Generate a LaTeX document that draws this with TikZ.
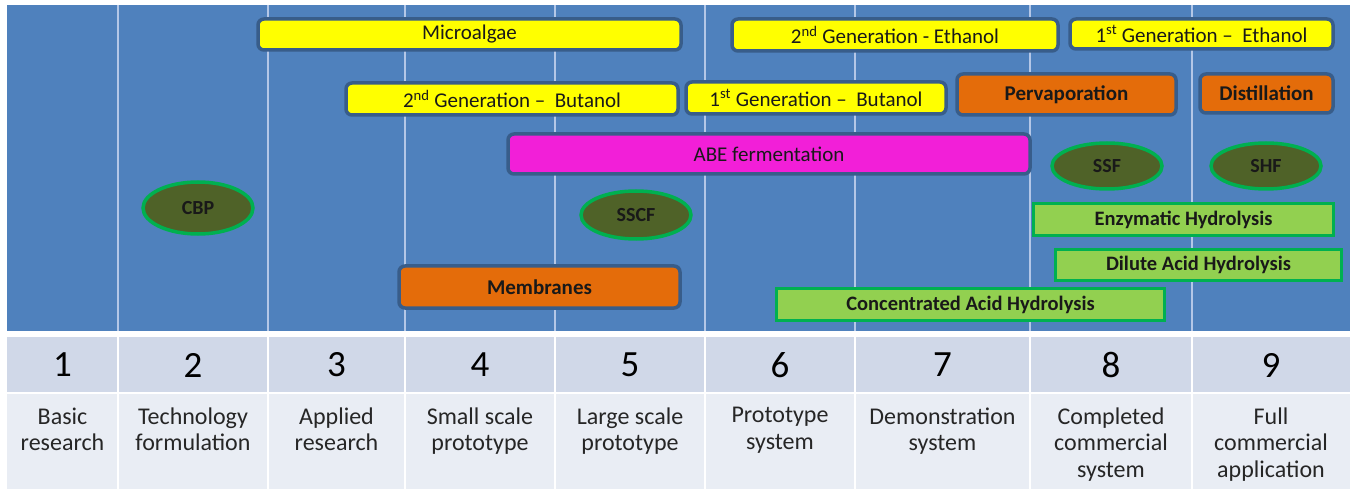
\documentclass[tikz,border=0pt]{standalone}
\usepackage{fontspec}
\setmainfont{Carlito}
\usetikzlibrary{shapes.geometric}

\definecolor{trlblue}{HTML}{4F81BD}
\definecolor{trlline}{HTML}{B4C7E7}
\definecolor{trledge}{HTML}{385D8A}
\definecolor{trlyellow}{HTML}{FFFF00}
\definecolor{trlorange}{HTML}{E46C0A}
\definecolor{trlpink}{HTML}{F21FD8}
\definecolor{trlolive}{HTML}{4F6228}
\definecolor{trlgreen}{HTML}{00B050}
\definecolor{trllime}{HTML}{92D050}
\definecolor{trlnumrow}{HTML}{D0D8E8}
\definecolor{trltxtrow}{HTML}{E9EDF4}

\begin{document}
\begin{tikzpicture}[x=1pt,y=-1pt,
    bar/.style={draw=trledge,line width=3.5pt,rounded corners=6pt,inner sep=0pt,
      text=black!90,font=\fontsize{21}{24}\selectfont},
    yellowbar/.style={bar,fill=trlyellow},
    orangebar/.style={bar,fill=trlorange,font=\fontsize{21}{24}\selectfont\bfseries},
    pinkbar/.style={bar,fill=trlpink},
    process/.style={ellipse,draw=trlgreen,line width=3.5pt,fill=trlolive,inner sep=0pt,
      text=black!90,font=\fontsize{20}{22}\selectfont\bfseries},
    hydro/.style={draw=trlgreen,line width=3pt,fill=trllime,inner sep=0pt,
      text=black!90,font=\fontsize{20.5}{24}\selectfont\bfseries},
    levelnum/.style={font=\fontsize{37}{40}\selectfont},
    levelname/.style={align=center,anchor=north,text=black!85,font=\fontsize{24}{26.5}\selectfont}]
    \useasboundingbox (0,0) rectangle (1355,489);

    % background of the chart and of the table
    \fill[trlblue] (7,5) rectangle (1350,331);
    \foreach \x in {118,268,405,555,705,855,1030,1192}
        \draw[trlline,line width=2pt] (\x,5) -- (\x,331);
    \fill[trlnumrow] (7,337) rectangle (1350,393);
    \fill[trltxtrow] (7,393) rectangle (1350,489);
    \draw[white,line width=2.5pt] (7,393) -- (1350,393);
    \foreach \x in {118,268,405,555,705,855,1030,1192}
        \draw[white,line width=2.5pt] (\x,337) -- (\x,489);

    % readiness levels
    \foreach \n/\cx/\txt in {1/62.5/{Basic\\research},
                             2/193/{Technology\\formulation},
                             3/336.5/{Applied\\research},
                             4/480/{Small scale\\prototype},
                             5/630/{Large scale\\prototype},
                             6/780/{Prototype\\system},
                             7/942.5/{Demonstration\\system},
                             8/1111/{Completed\\commercial\\system},
                             9/1271/{Full\\commercial\\application}} {
        \path (\cx,365) node [levelnum] (num\n) {\n};
        \path (\cx,404) node [levelname] (lvl\n) {\txt};
    }

    % processes
    \path (469.5,34.5) node [yellowbar,minimum width=423pt,minimum height=31pt] (microalgae) {Microalgae};
    \path (895,35) node [yellowbar,minimum width=326pt,minimum height=32pt] (ethtwo) {2\textsuperscript{nd} Generation - Ethanol};
    \path (1201.5,34) node [yellowbar,minimum width=263pt,minimum height=30pt] (ethone) {1\textsuperscript{st} Generation --\ \ Ethanol};
    \path (512,99) node [yellowbar,minimum width=332pt,minimum height=32pt] (buttwo) {2\textsuperscript{nd} Generation --\ \ Butanol};
    \path (816,98) node [yellowbar,minimum width=260pt,minimum height=32pt] (butone) {1\textsuperscript{st} Generation --\ \ Butanol};
    \path (1066.5,94.5) node [orangebar,minimum width=219pt,minimum height=41pt] (pervap) {Pervaporation};
    \path (1266.5,93.5) node [orangebar,minimum width=133pt,minimum height=39pt] (distil) {Distillation};
    \path (769,154) node [pinkbar,minimum width=522pt,minimum height=40pt] (abe) {ABE fermentation};
    \path (539.5,287) node [orangebar,minimum width=281pt,minimum height=42pt] (membranes) {Membranes};

    \path (198,208) node [process,minimum width=110pt,minimum height=52pt] (cbp) {CBP};
    \path (636,215) node [process,minimum width=110pt,minimum height=48pt] (sscf) {SSCF};
    \path (1107,166) node [process,minimum width=110pt,minimum height=46pt] (ssf) {SSF};
    \path (1266,166) node [process,minimum width=110pt,minimum height=46pt] (shf) {SHF};

    \path (1183.5,219.5) node [hydro,minimum width=300pt,minimum height=32pt] (enzymatic) {Enzymatic Hydrolysis};
    \path (1198.5,265) node [hydro,minimum width=286pt,minimum height=31pt] (dilute) {Dilute Acid Hydrolysis};
    \path (970.5,304.5) node [hydro,minimum width=388pt,minimum height=32pt] (concentrated) {Concentrated Acid Hydrolysis};
\end{tikzpicture}
\end{document}
